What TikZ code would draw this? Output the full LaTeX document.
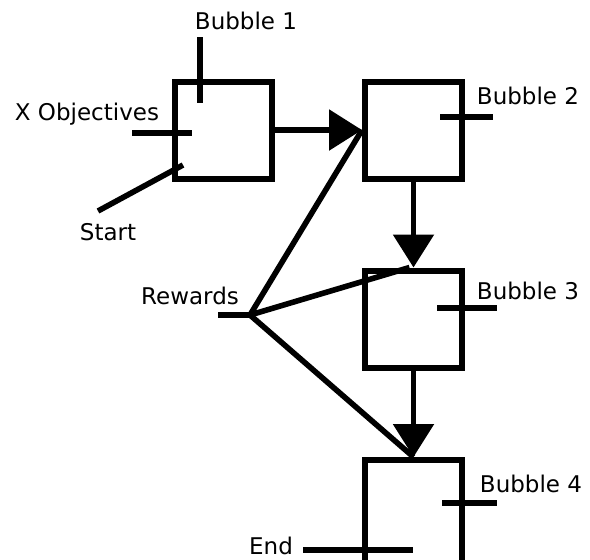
\documentclass[tikz,border=0pt]{standalone}
\usepackage{fontspec}
\newfontfamily\lblfont{DejaVu Sans}
\usetikzlibrary{arrows.meta}

\begin{document}
\begin{tikzpicture}[x=0.5pt,y=-0.5pt,
    bubble/.style={draw,line width=3pt,minimum width=48.5pt,minimum height=48.5pt,inner sep=0pt},
    lbl/.style={font=\lblfont\fontsize{11.5}{13}\selectfont,inner sep=0pt},
    wire/.style={line width=2.8pt},
    flow/.style={wire,-{Triangle[length=16.5pt,width=20pt]}}]

    % 画布
    \useasboundingbox (0,0) rectangle (590,559);
    \clip (0,0) rectangle (590,559);

    % 方框
    \node[bubble] (b1) at (223.5,130) {};
    \node[bubble] (b2) at (413.5,130) {};
    \node[bubble] (b3) at (413.5,319) {};
    \node[bubble,minimum height=53pt] (b4) at (413.5,513) {};

    % 文字
    \node[lbl] (t1) at (246,21) {Bubble 1};
    \node[lbl] (t2) at (528,96) {Bubble 2};
    \node[lbl] (t3) at (528,291) {Bubble 3};
    \node[lbl] (t4) at (531,484) {Bubble 4};
    \node[lbl] (obj) at (87,114) {X Objectives};
    \node[lbl] (start) at (108,232) {Start};
    \node[lbl] (rew) at (190,296) {Rewards};
    \node[lbl] (end) at (271,546) {End};

    % 短线端点
    \coordinate (p1a) at (200,37);   \coordinate (p1b) at (200,103);
    \coordinate (p2a) at (440,117);  \coordinate (p2b) at (493,117);
    \coordinate (p3a) at (437,308);  \coordinate (p3b) at (497,308);
    \coordinate (p4a) at (442,503);  \coordinate (p4b) at (497,503);
    \coordinate (oa) at (132,133);   \coordinate (ob) at (192,133);
    \coordinate (sa) at (98,211);    \coordinate (sb) at (183,165);
    \coordinate (ea) at (303,550);   \coordinate (eb) at (413,550);
    \coordinate (rwa) at (218,315);  \coordinate (rw) at (250,315);

    % 短线
    \foreach \i in {1,2,3,4} {
        \draw[wire] (p\i a) -- (p\i b);
    }
    \draw[wire] (oa) -- (ob);
    \draw[wire] (sa) -- (sb);
    \draw[wire] (ea) -- (eb);
    \draw[wire] (rwa) -- (rw);

    % 箭头
    \draw[flow] (b1.east) -- (b2.west);
    \draw[flow] (b2.south) -- (b3.north);
    \draw[flow] (b3.south) -- (b4.north);

    % Rewards 连线
    \draw[wire] (rw) -- (b2.west);
    \draw[wire] (rw) -- ([xshift=-2pt]b3.north);
    \draw[wire] (rw) -- (b4.north);

\end{tikzpicture}
\end{document}
